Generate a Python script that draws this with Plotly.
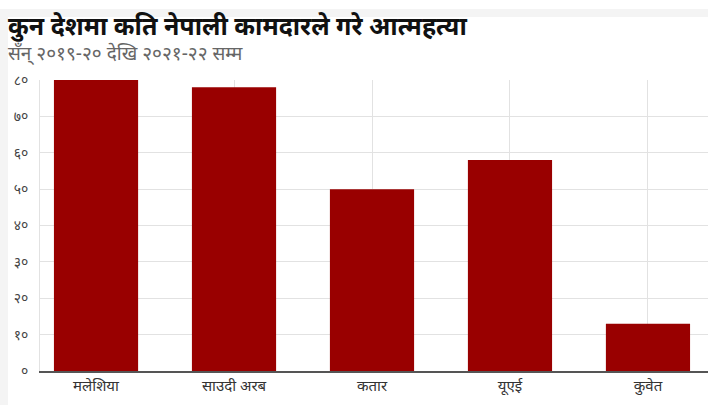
import plotly.graph_objects as go

categories = ["मलेशिया", "साउदी अरब", "कतार", "यूएई", "कुवेत"]
values = [80, 78, 50, 58, 13]
tick_vals = [0, 10, 20, 30, 40, 50, 60, 70, 80]
tick_text = ["०", "१०", "२०", "३०", "४०", "५०", "६०", "७०", "८०"]

W, H = 708, 405
ml, mr, mt, mb = 40, 0, 80, 34
pw, ph = W - ml - mr, H - mt - mb

def px_x(x):
    return (x - ml) / pw

def px_y(y):
    return (H - mb - y) / ph

fig = go.Figure(go.Bar(
    x=categories, y=values, marker_color="#990000",
    marker_line_width=0, width=0.61,
))

fig.update_layout(
    width=W, height=H,
    margin=dict(l=ml, r=mr, t=mt, b=mb, pad=0),
    paper_bgcolor="#f4f4f4",
    plot_bgcolor="white",
    font=dict(family="Noto Sans, DejaVu Sans, sans-serif", color="#333"),
    showlegend=False,
    shapes=[
        dict(type="rect", xref="paper", yref="paper", layer="below",
             x0=px_x(8), x1=px_x(W + 5), y0=px_y(H + 5), y1=px_y(17),
             fillcolor="white", line_width=0),
        dict(type="rect", xref="paper", yref="paper", layer="below",
             x0=px_x(-5), x1=px_x(W + 5), y0=px_y(9), y1=px_y(-5),
             fillcolor="white", line_width=0),
    ],
    annotations=[
        dict(text="<b>कुन देशमा कति नेपाली कामदारले गरे आत्महत्या</b>",
             xref="paper", yref="paper", x=px_x(6), y=px_y(44),
             xanchor="left", yanchor="bottom", showarrow=False,
             font=dict(size=25, color="#111")),
        dict(text="सँन् २०१९-२० देखि २०२१-२२ सम्म",
             xref="paper", yref="paper", x=px_x(6), y=px_y(68),
             xanchor="left", yanchor="bottom", showarrow=False,
             font=dict(size=19, color="#666")),
    ],
)

fig.update_xaxes(
    range=[-0.406, 4.435], showgrid=True, gridcolor="#e2e2e2", gridwidth=1,
    showline=True, linecolor="#555", linewidth=1.5,
    ticks="", tickfont=dict(size=15, color="#333"), fixedrange=True,
)
fig.update_yaxes(
    range=[0, 80], tickvals=tick_vals, ticktext=tick_text,
    showgrid=True, gridcolor="#e2e2e2", gridwidth=1,
    showline=True, linecolor="#e2e2e2", mirror=True, zeroline=False,
    ticks="", ticklabelstandoff=8, tickfont=dict(size=14, color="#444"),
    fixedrange=True,
)

fig.write_html("out.html", config={"displayModeBar": False},
               post_script="document.body.style.margin='0';document.body.style.padding='0';")
